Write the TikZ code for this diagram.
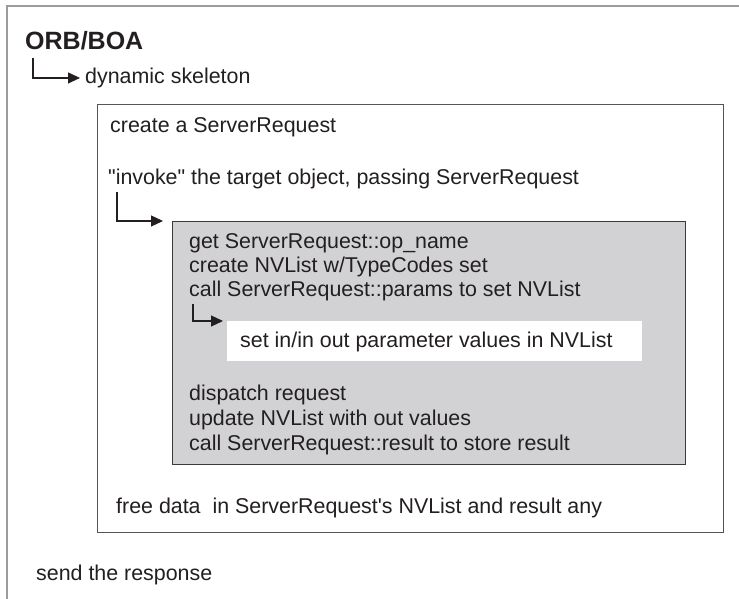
\documentclass[tikz,border=0pt]{standalone}
\usepackage{fontspec}
\usetikzlibrary{arrows.meta}
% plain family: keeps straight quotes and apostrophes
\newfontfamily\diagfont{Liberation Sans}
\definecolor{ink}{HTML}{231F20}
\definecolor{framegray}{HTML}{9C9C9C}
\definecolor{boxline}{HTML}{555555}
\definecolor{panelline}{HTML}{3A3A3A}
\definecolor{panelfill}{HTML}{D2D2D4}
\begin{document}
\begin{tikzpicture}[x=1bp,y=-1bp,
  txt/.style={anchor=base west, inner sep=0pt, text=ink,
    font=\diagfont\fontsize{21.4bp}{24bp}\selectfont},
  title/.style={anchor=base west, inner sep=0pt, text=ink,
    font=\diagfont\fontsize{25bp}{28bp}\selectfont\bfseries},
  flow/.style={draw=ink, line width=1.2bp, -{Triangle[length=12bp,width=11bp]}},
  midbox/.style={draw=boxline, line width=1.4bp, fill=white, anchor=north west, inner sep=0pt},
  panel/.style={draw=panelline, line width=1.4bp, fill=panelfill, anchor=north west, inner sep=0pt},
  slot/.style={fill=white, anchor=north west, inner sep=0pt},
]
\useasboundingbox (0,0) rectangle (739,599);
\fill[white] (0,0) rectangle (739,599);

% outer ORB/BOA frame (open to the right and bottom)
\draw[framegray, line width=2bp] (7,600) -- (7,6) -- (740,6);

% nested boxes
\node[midbox, minimum width=626bp, minimum height=428bp] (skelbox) at (97,104) {};
\node[panel, minimum width=513bp, minimum height=243bp] (panel) at (172,221) {};
\node[slot, minimum width=415bp, minimum height=40bp] (slot) at (227,321) {};

% texts
\node[title] (orb) at (25,50) {ORB/BOA};
\node[txt] (skel) at (85,83.5) {dynamic skeleton};
\node[txt] (create) at (110,133) {create a ServerRequest};
\node[txt] (invoke) at (108,185) {"invoke" the target object, passing ServerRequest};
\node[txt] (opname) at (189,248) {get ServerRequest::op\_name};
\node[txt] (mklist) at (189,272) {create NVList w/TypeCodes set};
\node[txt] (params) at (189,296) {call ServerRequest::params to set NVList};
\node[txt] (setin) at (240,347) {set in/in out parameter values in NVList};
\node[txt] (dispatch) at (189,400) {dispatch request};
\node[txt] (update) at (189,425) {update NVList with out values};
\node[txt] (result) at (189,450) {call ServerRequest::result to store result};
\node[txt] (free) at (116,513) {free data\ \ in ServerRequest's NVList and result any};
\node[txt] (send) at (36,580) {send the response};

% elbow connectors
\coordinate (a1) at (33,58);
\coordinate (a2) at (117,192);
\coordinate (a3) at (193,304);
\draw[flow, shorten >=5bp] (a1) |- (skel.west);
\draw[flow, shorten >=9bp] (a2) |- (panel.north west);
\draw[flow, shorten >=4bp] (a3) |- (slot.north west);
\end{tikzpicture}
\end{document}
